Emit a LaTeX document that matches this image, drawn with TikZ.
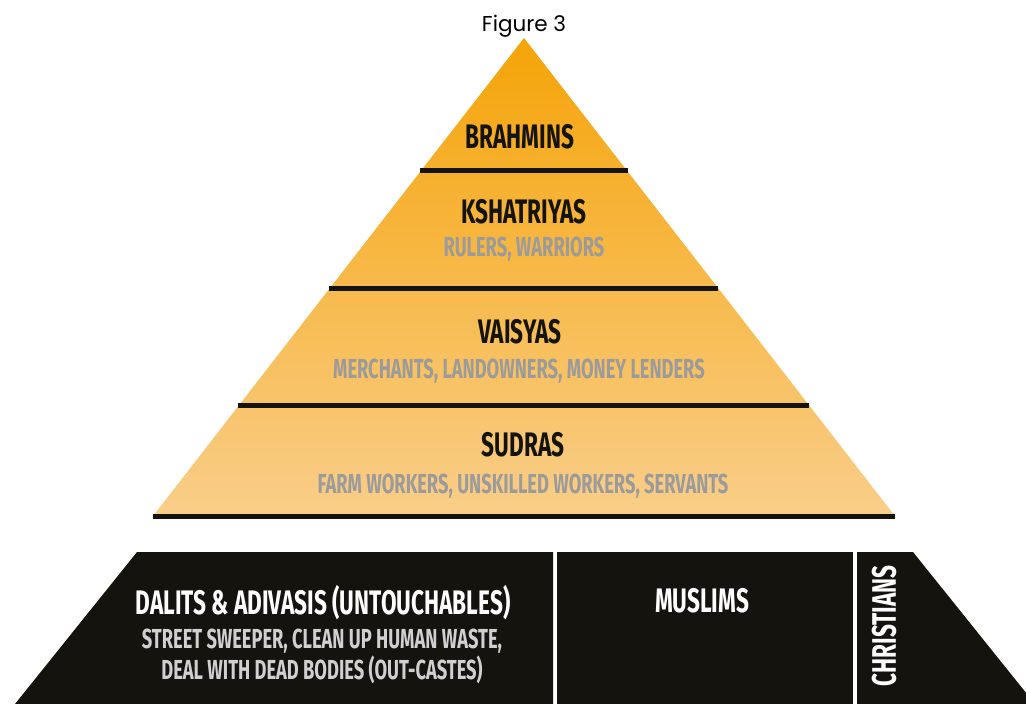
\documentclass[tikz,border=0pt]{standalone}
\usepackage{fontspec}
\newfontfamily\figfont{Poppins}
\newfontfamily\bbfont{Fira Sans}[FakeStretch=0.665]
\definecolor{ink}{HTML}{15130E}
\definecolor{subgray}{HTML}{9B9B9B}
\definecolor{palegray}{HTML}{D0D0D0}
\definecolor{topor}{HTML}{F5A408}
\definecolor{botor}{HTML}{F9CE8A}
\begin{document}
\begin{tikzpicture}[x=1pt,y=-1pt,
  tier/.style={font=\bbfont\bfseries\fontsize{34}{36}\selectfont, text=ink, inner sep=0pt, anchor=base},
  sub/.style={font=\bbfont\bfseries\fontsize{27.5}{30}\selectfont, text=subgray, inner sep=0pt, anchor=base},
  wtier/.style={tier, text=white},
  wsub/.style={sub, text=palegray},
  sepline/.style={draw=ink, line width=5pt},
  blk/.style={fill=ink}]
\useasboundingbox (0,0) rectangle (1026,704);
% pyramid
\coordinate (apex) at (524,38);
\coordinate (bl) at (153,516);
\coordinate (br) at (895,516);
\shade[top color=topor, bottom color=botor] (apex) -- (br) -- (bl) -- cycle;
\coordinate (s1a) at (420,170); \coordinate (s1b) at (628,170);
\coordinate (s2a) at (329,288); \coordinate (s2b) at (718,288);
\coordinate (s3a) at (238,405); \coordinate (s3b) at (809,405);
\draw[sepline] (s1a) -- (s1b);
\draw[sepline] (s2a) -- (s2b);
\draw[sepline] (s3a) -- (s3b);
\draw[sepline] (bl) -- (br);
% base blocks
\begin{scope}
\clip (0,0) rectangle (1026,704);
\fill[blk] (137,552) -- (553,552) -- (553,704) -- (15,704) -- cycle;
\fill[blk] (557,552) -- (853,552) -- (853,704) -- (557,704) -- cycle;
\fill[blk] (857,552) -- (913,552) -- (1035,704) -- (857,704) -- cycle;
\end{scope}
% texts
\node[font=\figfont\fontsize{21.5}{24}\selectfont, anchor=base, inner sep=0pt] (fig) at (524,31) {Figure 3};
\node[tier] (brahmins) at (520,148) {BRAHMINS};
\node[tier] (kshat) at (524,223) {KSHATRIYAS};
\node[sub] (kshatsub) at (524,256) {RULERS, WARRIORS};
\node[tier] (vaisyas) at (520,343) {VAISYAS};
\node[sub] (vaisyassub) at (519,378) {MERCHANTS, LANDOWNERS, MONEY LENDERS};
\node[tier] (sudras) at (523,456) {SUDRAS};
\node[sub] (sudrassub) at (523,493) {FARM WORKERS, UNSKILLED WORKERS, SERVANTS};
\node[wtier] (dalits) at (323,614) {DALITS \& ADIVASIS (UNTOUCHABLES)};
\node[wsub] (dalitssub1) at (322,648) {STREET SWEEPER, CLEAN UP HUMAN WASTE,};
\node[wsub] (dalitssub2) at (322,679) {DEAL WITH DEAD BODIES (OUT-CASTES)};
\node[wtier] (muslims) at (702,612) {MUSLIMS};
\node[wtier, anchor=center, rotate=90] (christians) at (884,626) {CHRISTIANS};
\end{tikzpicture}
\end{document}
